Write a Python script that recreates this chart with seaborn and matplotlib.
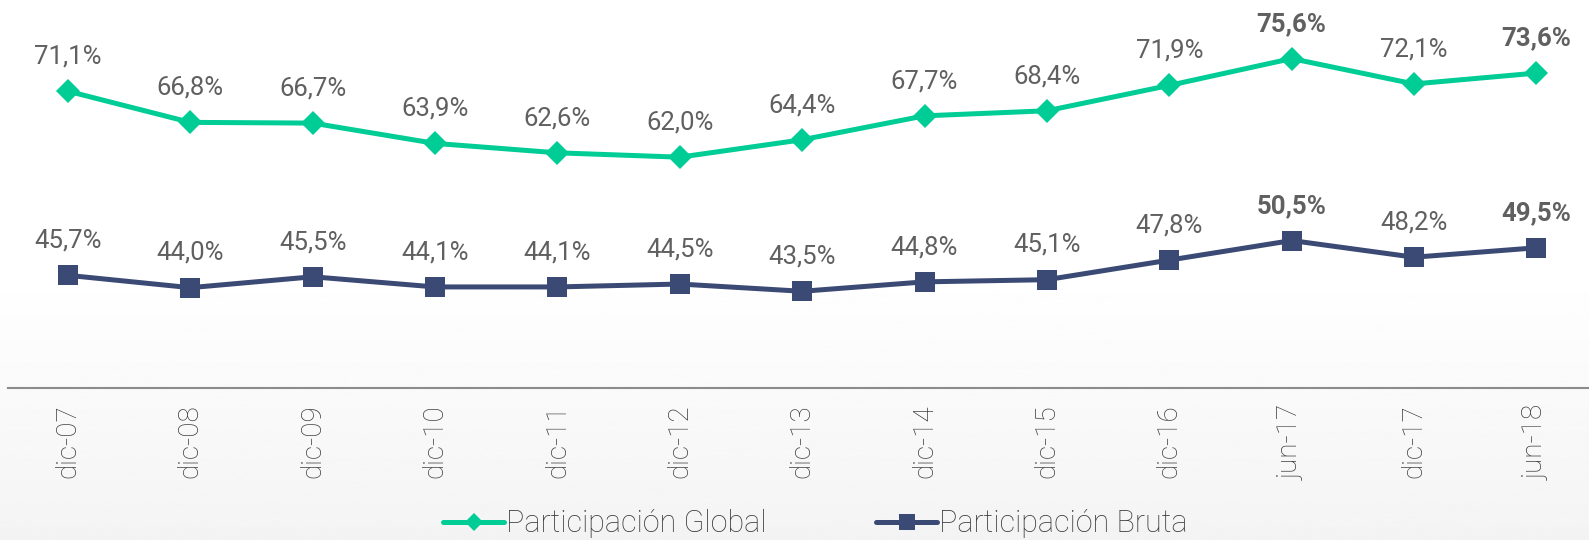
import matplotlib
matplotlib.use("Agg")
import matplotlib.pyplot as plt
import seaborn as sns
import numpy as np
import pandas as pd

# Data
periods = ["dic-07", "dic-08", "dic-09", "dic-10", "dic-11", "dic-12", "dic-13",
           "dic-14", "dic-15", "dic-16", "jun-17", "dic-17", "jun-18"]
global_part = [71.1, 66.8, 66.7, 63.9, 62.6, 62.0, 64.4, 67.7, 68.4, 71.9, 75.6, 72.1, 73.6]
bruta_part = [45.7, 44.0, 45.5, 44.1, 44.1, 44.5, 43.5, 44.8, 45.1, 47.8, 50.5, 48.2, 49.5]
bold_periods = ["jun-17", "jun-18"]

green = "#00CC96"
navy = "#3A4A74"
text_gray = "#3C3C3C"

sns.set_style("white")
plt.rcParams["font.family"] = ["Roboto", "DejaVu Sans"]

df = pd.DataFrame({"pos": np.arange(len(periods)), "periodo": periods,
                   "Participación Global": global_part,
                   "Participación Bruta": bruta_part})

fig = plt.figure(figsize=(15.89, 5.4), dpi=100)

# faint background gradient towards the bottom
bg = fig.add_axes([0, 0, 1, 1], zorder=-10)
grad = np.linspace(0, 1, 256)[:, None]
grad = np.clip((grad - 0.5) / 0.5, 0, 1)
bg.imshow(1 - 0.045 * grad, cmap="gray", vmin=0, vmax=1, aspect="auto",
          extent=[0, 1, 0, 1], origin="upper")
bg.axis("off")

ax = fig.add_axes([0.005, 0.2815, 0.995, 0.7185])
ax.patch.set_alpha(0)

sns.lineplot(data=df, x="pos", y="Participación Global", ax=ax, color=green,
             linewidth=3.6, marker="D", markersize=12, markeredgewidth=0,
             label="Participación Global")
sns.lineplot(data=df, x="pos", y="Participación Bruta", ax=ax, color=navy,
             linewidth=3.6, marker="s", markersize=15, markeredgewidth=0,
             label="Participación Bruta")

for series in [global_part, bruta_part]:
    for i, v in enumerate(series):
        bold = periods[i] in bold_periods
        ax.annotate(f"{v:.1f}%".replace(".", ","), (i, v), xytext=(0, 25),
                    textcoords="offset points", ha="center", va="center",
                    fontsize=18.5, color="#606060",
                    fontweight="bold" if bold else "normal")

ax.set_xlim(-0.49, 12.43)
ax.set_ylim(30.16, 83.68)
ax.set_xticks(range(len(periods)))
ax.set_xticklabels(periods, rotation=90, fontsize=20, color=text_gray,
                   fontweight="light")
ax.tick_params(axis="x", length=0, pad=12)
ax.set_yticks([])
ax.set_xlabel("")
ax.set_ylabel("")
for side in ["top", "right", "left"]:
    ax.spines[side].set_visible(False)
ax.spines["bottom"].set_color("#8C8C8C")
ax.spines["bottom"].set_linewidth(1.5)

ax.legend_.remove()
handles, labels = ax.get_legend_handles_labels()
fig.legend(handles, labels, loc="center", bbox_to_anchor=(0.513, 0.03), ncol=2,
           frameon=False, prop={"size": 22, "weight": "light"},
           handlelength=2.0, handletextpad=0.05, columnspacing=3.6,
           markerscale=0.8, labelcolor=text_gray)

fig.savefig("out.png", dpi=100)
